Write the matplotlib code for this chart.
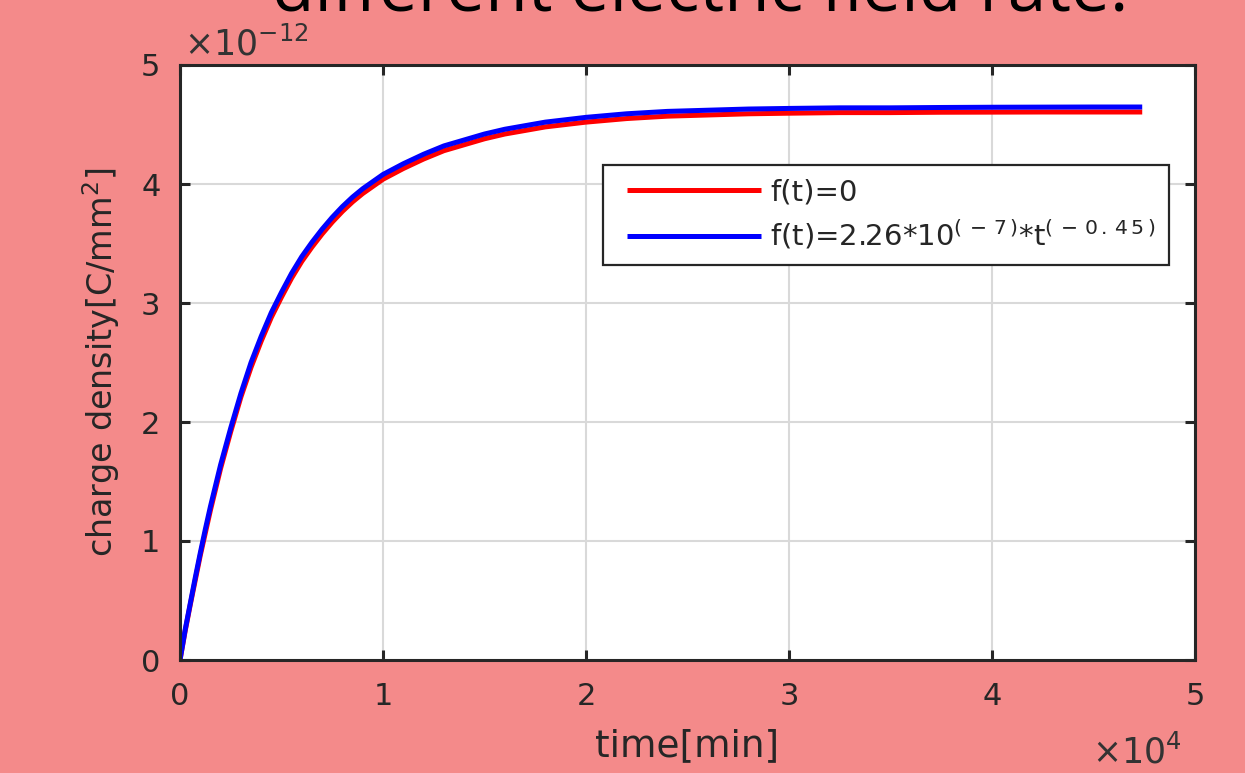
import matplotlib
matplotlib.use('Agg')
import matplotlib.pyplot as plt
from matplotlib.lines import Line2D
from matplotlib.legend_handler import HandlerLine2D

# time in units of 1e4 min, charge density in units of 1e-12 C/mm^2
time_1e4 = [0, 0.025, 0.05, 0.075, 0.1, 0.125, 0.15, 0.2, 0.25, 0.3, 0.35, 0.4, 0.45,
            0.5, 0.55, 0.6, 0.65, 0.7, 0.75, 0.8, 0.85, 0.9, 0.95, 1.0, 1.1, 1.2,
            1.3, 1.4, 1.5, 1.6, 1.7, 1.8, 1.9, 2.0, 2.2, 2.4, 2.6, 2.8, 3.0, 3.25,
            3.5, 3.75, 4.0, 4.25, 4.5, 4.74]
charge_f0 = [0, 0.24, 0.46, 0.67, 0.88, 1.07, 1.26, 1.61, 1.92, 2.21, 2.46, 2.68, 2.88,
             3.05, 3.21, 3.35, 3.47, 3.58, 3.68, 3.77, 3.85, 3.92, 3.98, 4.04, 4.13, 4.21,
             4.28, 4.33, 4.38, 4.42, 4.45, 4.48, 4.50, 4.52, 4.55, 4.57, 4.58, 4.59, 4.595, 4.60,
             4.60, 4.603, 4.604, 4.605, 4.605, 4.605]
charge_ft = [0, 0.25, 0.47, 0.69, 0.90, 1.10, 1.29, 1.64, 1.95, 2.24, 2.50, 2.72, 2.92,
             3.09, 3.25, 3.39, 3.51, 3.62, 3.72, 3.81, 3.89, 3.96, 4.02, 4.08, 4.17, 4.25,
             4.32, 4.37, 4.42, 4.46, 4.49, 4.52, 4.54, 4.56, 4.59, 4.61, 4.62, 4.63, 4.635, 4.64,
             4.64, 4.643, 4.645, 4.646, 4.647, 4.647]
labels = ['f(t)=0', r'f(t)=2.26*10$^{(\,-\,7\,)}$*t$^{(\,-\,0\,.\,4\,5\,)}$']
xticks = [0, 1, 2, 3, 4, 5]
yticks = [0, 1, 2, 3, 4, 5]

pink = '#f48a8a'
dark = '#262626'

fig = plt.figure(figsize=(12.45, 7.73), dpi=100, facecolor=pink)
ax = fig.add_axes([180/1245, 1 - 660/773, 1015/1245, 595/773])
ax.set_facecolor('white')

ax.plot(time_1e4, charge_f0, color='#ff0000', lw=3.6, label=labels[0], solid_capstyle='butt')
ax.plot(time_1e4, charge_ft, color='#0000ff', lw=3.6, label=labels[1], solid_capstyle='butt')

ax.set_xlim(0, 5)
ax.set_ylim(0, 5)
ax.set_xticks(xticks)
ax.set_yticks(yticks)
ax.grid(True, color='#d9d9d9', lw=1.5)
ax.set_axisbelow(True)
for s in ax.spines.values():
    s.set_color(dark)
    s.set_linewidth(2.2)
ax.tick_params(direction='in', length=7, width=2.2, color=dark, labelcolor=dark,
               labelsize=22, top=True, right=True)
ax.tick_params(axis='x', pad=16)
ax.tick_params(axis='y', pad=14)

ax.set_xlabel('time[min]', fontsize=27, color=dark, labelpad=12)
ax.set_ylabel('charge density[C/mm$^2$]', fontsize=24, color=dark, labelpad=14)

# MATLAB style exponent labels
fig.text(184/1245, 1 - 55/773, r'$\times\mathregular{10^{-12}}$', fontsize=25,
         color='#333333', va='baseline', ha='left')
fig.text(1092/1245, 1 - 763/773, r'$\times\mathregular{10^{4}}$', fontsize=25,
         color='#333333', va='baseline', ha='left')

leg = ax.legend(loc='upper left', bbox_to_anchor=(423/1015, 495/595), borderaxespad=0,
                fontsize=21, handlelength=4.95, handletextpad=0.34, labelspacing=0.42,
                borderpad=0.45, fancybox=False, framealpha=1, edgecolor=dark,
                handler_map={Line2D: HandlerLine2D(xpad=0.36)})
leg.get_frame().set_linewidth(1.6)
for t in leg.get_texts():
    t.set_color(dark)

# slide title cut off at the top
fig.text(700/1245, 1 - 12/773, 'different electric field rate.', fontsize=50,
         family='Open Sans', color='black', ha='center', va='baseline')

fig.savefig('out.png', dpi=100, facecolor=pink)
